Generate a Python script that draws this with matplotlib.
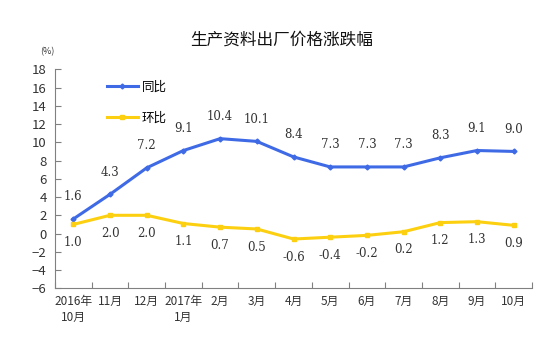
import matplotlib
matplotlib.use("Agg")
import matplotlib.pyplot as plt

plt.rcParams["font.family"] = ["Noto Sans CJK SC", "DejaVu Sans"]

months = ["2016年\n10月", "11月", "12月", "2017年\n1月", "2月", "3月", "4月",
          "5月", "6月", "7月", "8月", "9月", "10月"]
yoy = [1.6, 4.3, 7.2, 9.1, 10.4, 10.1, 8.4, 7.3, 7.3, 7.3, 8.3, 9.1, 9.0]
mom = [1.0, 2.0, 2.0, 1.1, 0.7, 0.5, -0.6, -0.4, -0.2, 0.2, 1.2, 1.3, 0.9]

BLUE = "#3f6ae6"
YELLOW = "#fcd010"
TXT = "#333333"

fig = plt.figure(figsize=(5.53, 3.39), dpi=100)
ax = fig.add_axes([55 / 553, 1 - 288.3 / 339, 477 / 553, 219 / 339])

x = list(range(len(months)))
ax.plot(x, yoy, color=BLUE, lw=2.2, marker="D", ms=2.5, label="同比")
ax.plot(x, mom, color=YELLOW, lw=2.2, marker="s", ms=3, label="环比")

# подписи значений: синие сверху, жёлтые снизу
for xi, v in zip(x, yoy):
    ax.annotate(f"{v:.1f}", (xi, v), xytext=(0, 16), textcoords="offset points",
                ha="center", va="center", fontsize=8.5, color=TXT,
                family="DejaVu Serif")
for xi, v in zip(x, mom):
    ax.annotate(f"{v:.1f}", (xi, v), xytext=(0, -13), textcoords="offset points",
                ha="center", va="center", fontsize=8.5, color=TXT,
                family="DejaVu Serif")

ax.set_xlim(-0.5, len(months) - 0.5)
ax.set_ylim(-6, 18)
ax.set_yticks(range(-6, 19, 2))
ax.set_xticks([i - 0.5 for i in range(len(months) + 1)])
ax.set_xticklabels([])
ax.set_xticks(x, minor=True)
ax.set_xticklabels(months, minor=True, fontsize=8.5, color=TXT, linespacing=1.3)
ax.tick_params(axis="x", which="major", direction="in", length=4, color="#808080")
ax.tick_params(axis="x", which="minor", length=0, pad=5)
ax.tick_params(axis="y", direction="in", length=4, color="#808080",
               labelsize=9.5, labelcolor=TXT, pad=6)
for s in ("top", "right"):
    ax.spines[s].set_visible(False)
for s in ("left", "bottom"):
    ax.spines[s].set_color("#808080")

ax.legend(loc="upper left", bbox_to_anchor=(0.085, 1.0), frameon=False,
          fontsize=9, labelspacing=1.45, handlelength=2.5, handletextpad=0.3)

fig.text(0.51, 1 - 40 / 339, "生产资料出厂价格涨跌幅", ha="center", va="center",
         fontsize=12, weight="medium", color="#111111")
fig.text(47 / 553, 1 - 51.5 / 339, "(%)", ha="center", va="center",
         fontsize=6.5, color=TXT)

fig.savefig("out.png", dpi=100, facecolor="white")
